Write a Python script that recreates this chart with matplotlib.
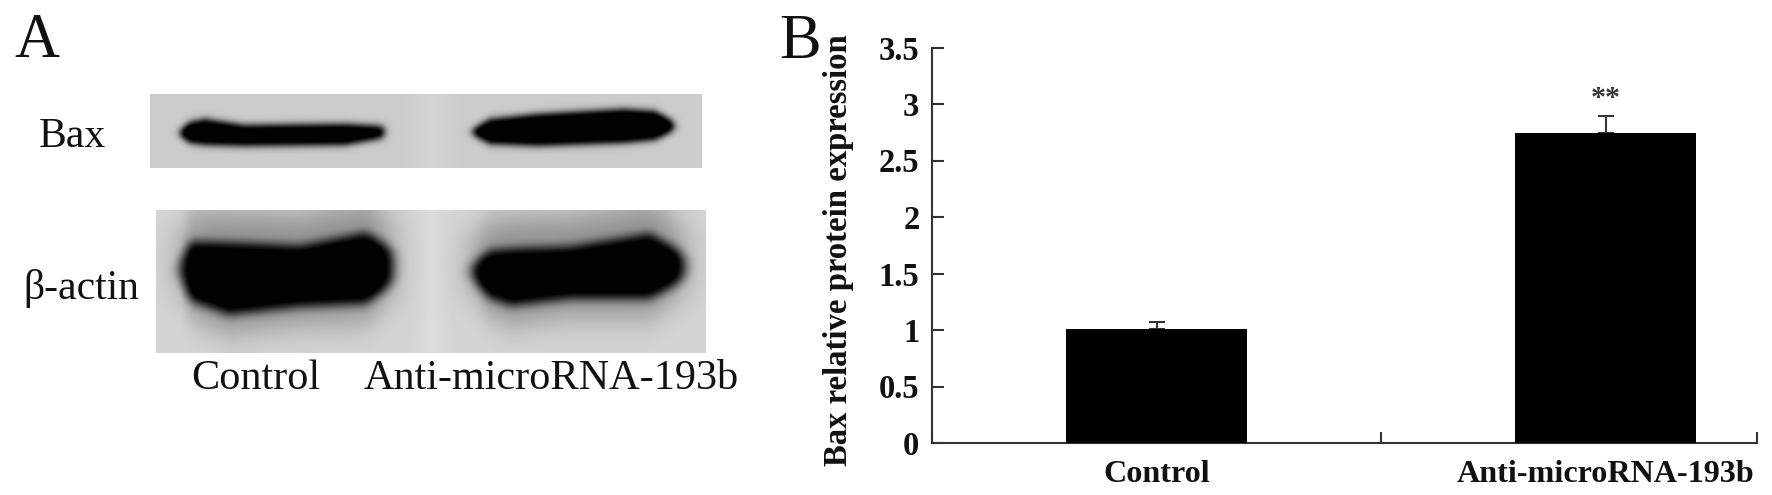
import numpy as np
import matplotlib
matplotlib.use("Agg")
import matplotlib.pyplot as plt

plt.rcParams['font.family'] = ['Liberation Serif', 'DejaVu Serif']

W, H = 1772, 495

#Bar chart values
groups = ["Control", "Anti-microRNA-193b"]
expression = [1.01, 2.745]
errors = [0.06, 0.145]
y_ticks = [0, 0.5, 1, 1.5, 2, 2.5, 3, 3.5]
y_tick_labels = ["0", "0.5", "1", "1.5", "2", "2.5", "3", "3.5"]
x_end = 1.837

#Blot outlines in pixels: x positions, top edge, bottom edge of each band
bax_ctrl = ([180, 190, 205, 244, 345, 384], [130, 123, 120, 126, 125, 127], [136, 142, 144, 145, 144, 137])
bax_anti = ([472, 490, 537, 624, 655, 674], [130, 120, 115, 110, 112, 122], [134, 143, 145, 142, 139, 130])
actin_ctrl = ([181, 190, 229, 300, 366, 392], [258, 242, 243, 246, 233, 248], [280, 300, 314, 306, 303, 285])
actin_anti = ([472, 490, 512, 570, 650, 684], [263, 251, 249, 247, 234, 253], [280, 298, 305, 298, 298, 280])


def px_axes(x0, y0, x1, y1):
    #axes box from picture pixels, y measured from the top
    return fig.add_axes([x0 / W, 1 - y1 / H, (x1 - x0) / W, (y1 - y0) / H])


def soft(v, s):
    return 1 / (1 + np.exp(-v / s))


def band(xx, yy, outline, s):
    xs, top, bot = outline
    t = np.interp(xx, xs, top)
    b = np.interp(xx, xs, bot)
    return soft(xx - xs[0], s) * soft(xs[-1] - xx, s) * soft(yy - t, s) * soft(b - yy, s)


def blur(img, size):
    #box blur along both directions, edges padded
    kernel = np.ones(size) / size
    pad = size // 2
    out = np.pad(img, pad, mode="edge")
    out = np.apply_along_axis(lambda r: np.convolve(r, kernel, mode="same"), 1, out)
    out = np.apply_along_axis(lambda c: np.convolve(c, kernel, mode="same"), 0, out)
    return out[pad:-pad, pad:-pad]


def draw_blot(box, bands, base, s, size, halo=0.0):
    x0, y0, x1, y1 = box
    xx, yy = np.meshgrid(np.arange(x0, x1) + 0.5, np.arange(y0, y1) + 0.5)
    #lighter seam between the two lanes
    img = base + 0.03 * np.exp(-((xx - 432) / 14) ** 2)
    dark = np.zeros_like(img)
    for outline in bands:
        dark = np.maximum(dark, np.clip(1.3 * band(xx, yy, outline, s), 0, 1))
        if halo:
            #smear above and below the thick bands
            shifted = (outline[0], [v - 30 for v in outline[1]], [v + 18 for v in outline[2]])
            dark = np.maximum(dark, halo * band(xx, yy, shifted, 9))
    dark = np.clip(1.1 * blur(dark, size), 0, 1)
    img = img * (1 - dark) + 0.01 * dark
    ax = px_axes(x0, y0, x1, y1)
    ax.imshow(img, cmap="gray", vmin=0, vmax=1, aspect="auto", interpolation="bilinear")
    ax.axis("off")


fig = plt.figure(figsize=(W / 100, H / 100), dpi=100)

#Panel A, the two blots
draw_blot((150, 94, 702, 168), [bax_ctrl, bax_anti], 0.80, 2, 7)
draw_blot((156, 210, 706, 353), [actin_ctrl, actin_anti], 0.83, 4, 13, halo=0.3)

fig.text(14 / W, 1 - 57 / H, "A", fontsize=45, color="#111111", ha="left", va="baseline")
fig.text(106 / W, 1 - 132 / H, "Bax", fontsize=30, color="#111111", ha="right", va="center_baseline")
fig.text(139 / W, 1 - 284 / H, "β-actin", fontsize=30, color="#111111", ha="right", va="center_baseline")
fig.text(256 / W, 1 - 389 / H, "Control", fontsize=30.4, color="#111111", ha="center")
fig.text(551 / W, 1 - 389 / H, "Anti-microRNA-193b", fontsize=30.4, color="#111111", ha="center")

#Panel B, the bar chart
fig.text(779 / W, 1 - 58 / H, "B", fontsize=45, color="#111111", ha="left", va="baseline")

ax = px_axes(932, 47.5, 1757, 443)
x_pos = np.arange(len(groups)) + 0.5
ax.bar(x_pos, expression, width=0.403, color="black", zorder=3)
ax.errorbar(x_pos, expression, yerr=[[0, 0], errors], fmt="none", ecolor="#333333",
            elinewidth=1.5, capsize=5.8, capthick=1.5, zorder=2)

ax.set_xlim(0, x_end)
ax.set_ylim(0, 3.5)
ax.set_yticks(y_ticks)
ax.set_yticklabels(y_tick_labels, fontsize=23.5, fontweight="bold", color="#111111")
ax.set_xticks([0, 1, x_end])
ax.set_xticklabels([])
ax.set_xticks(x_pos, groups, minor=True, fontsize=23.1, fontweight="bold", color="#111111")
ax.tick_params(axis="y", direction="in", length=8.6, width=1.5, color="#333333", pad=9)
ax.tick_params(axis="x", which="major", direction="in", length=8, width=1.5, color="#333333")
ax.tick_params(axis="x", which="minor", length=0, pad=12)
for side in ["top", "right"]:
    ax.spines[side].set_visible(False)
for side in ["left", "bottom"]:
    ax.spines[side].set_linewidth(1.5)
    ax.spines[side].set_color("#333333")

ax.annotate("**", (x_pos[1], expression[1] + errors[1]), xytext=(0, 3), textcoords="offset points",
            ha="center", va="bottom", fontsize=21.6, fontweight="bold", color="#333333")

fig.text(838 / W, 1 - 250 / H, "Bax relative protein expression", fontsize=23.6, fontweight="bold",
         color="#111111", rotation=90, ha="center", va="center")

fig.savefig("out.png", dpi=100)
